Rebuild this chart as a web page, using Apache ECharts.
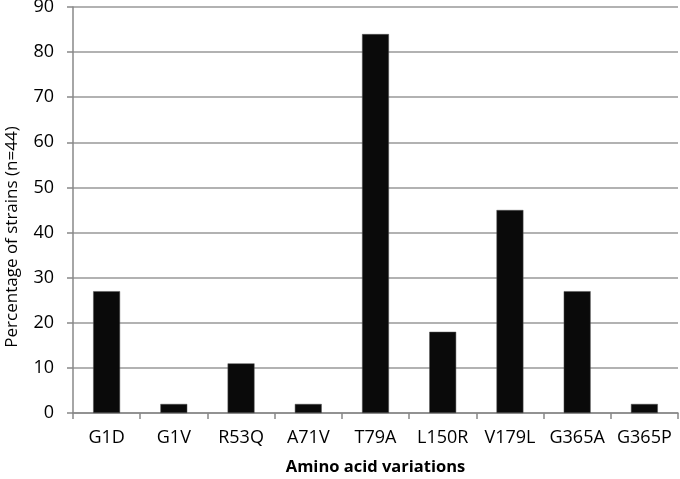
<!DOCTYPE html>
<html><head><meta charset="utf-8">
<script src="https://cdn.jsdelivr.net/npm/echarts@6/dist/echarts.min.js"></script>
<style>html,body{margin:0;padding:0;background:#fff}#c{width:680px;height:479px}</style>
</head><body><div id="c"></div>
<script>
const categories = ['G1D','G1V','R53Q','A71V','T79A','L150R','V179L','G365A','G365P'];
const values = [27, 2, 11, 2, 84, 18, 45, 27, 2];
const yTicks = [0,10,20,30,40,50,60,70,80,90];
const yTitle = 'Percentage of strains (n=44)';
const xTitle = 'Amino acid variations';
const chart = echarts.init(document.getElementById('c'));
const font = 'Open Sans';
chart.setOption({
  animation:false,
  grid:{left:73,right:2,top:7,bottom:66,containLabel:false,outerBoundsMode:'none'},
  graphic:[{type:'text',x:12,y:237,rotation:Math.PI/2,
    style:{text:yTitle,fontFamily:font,fontSize:17,fill:'#000',align:'center',verticalAlign:'middle'}}],
  xAxis:{type:'category',data:categories,
    name:xTitle,nameLocation:'middle',nameGap:46,
    nameTextStyle:{fontFamily:font,fontWeight:'bold',fontSize:16.5,color:'#000'},
    axisLine:{lineStyle:{color:'#888',width:1.5}},
    axisTick:{show:true,length:6,lineStyle:{color:'#888',width:1.5}},
    axisLabel:{fontFamily:font,fontSize:18,color:'#000',margin:16,interval:0,hideOverlap:false}},
  yAxis:{type:'value',min:0,max:90,interval:10,
    axisLine:{show:true,lineStyle:{color:'#888',width:1.5}},
    axisTick:{show:true,length:6,lineStyle:{color:'#888',width:1.5}},
    splitLine:{lineStyle:{color:'#999',width:1.5}},
    axisLabel:{fontFamily:font,fontSize:18,color:'#000',margin:19,
      formatter:v=>yTicks.includes(v)?String(v):''}},
  series:[{type:'bar',data:values,barWidth:'40%',
    itemStyle:{color:'#0a0a0a',borderColor:'#555',borderWidth:0.5}}]
});
</script></body></html>
